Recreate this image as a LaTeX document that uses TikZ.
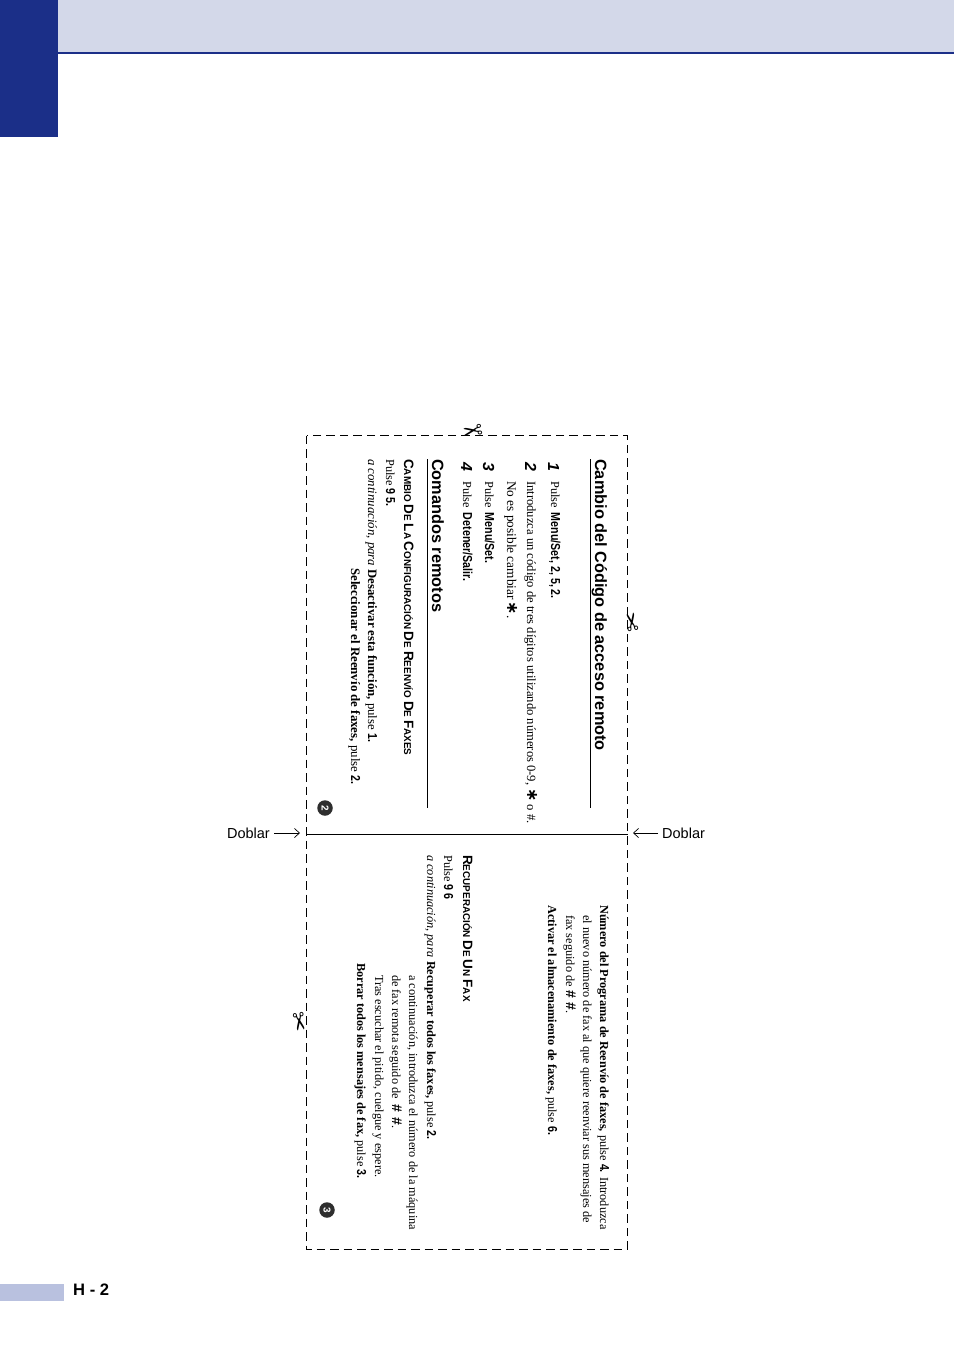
\documentclass[tikz,border=0pt]{standalone}
\usepackage{fontspec}
\usetikzlibrary{arrows.meta}
\setmainfont{Liberation Serif}
\setsansfont{Liberation Sans}
\newfontfamily\keyfont[FakeStretch=0.82]{Liberation Sans Bold}
\newfontfamily\symfont{DejaVu Sans}
\newcommand{\keyname}[1]{{\keyfont\fontsize{13}{13}\selectfont #1}}
\newcommand{\capletter}[1]{{\fontsize{13.5}{13.5}\selectfont #1}}
\newcommand{\starkey}{{\symfont\bfseries\fontsize{16}{16}\selectfont ∗}}
\newcommand{\hashpair}{{\sffamily\bfseries\fontsize{14}{14}\selectfont \#\hspace{5pt}\#}}
\definecolor{pageblue}{HTML}{1B2F88}
\definecolor{bandblue}{HTML}{D3D8E9}
\definecolor{tabblue}{HTML}{B9C1DF}
\definecolor{discgrey}{HTML}{2E2E2E}
\tikzset{
	textline/.style={rotate=-90, anchor=base west, inner sep=0pt, font=\fontsize{12.3}{12.3}\selectfont},
	headline/.style={textline, font=\fontsize{16.3}{16.3}\selectfont\sffamily\bfseries},
	capsline/.style={textline, font=\fontsize{9.9}{9.9}\selectfont\sffamily\bfseries},
	stepnum/.style={textline, font=\fontsize{16}{16}\selectfont\sffamily\bfseries\itshape},
	disc/.style={draw=none, fill=discgrey, circle, minimum size=15.5pt, inner sep=0pt, rotate=-90, text=white, font=\fontsize{10}{10}\selectfont\sffamily\bfseries},
	scissor/.style={inner sep=0pt, font=\symfont\fontsize{24}{24}\selectfont},
	foldtext/.style={inner sep=0pt, font=\fontsize{14.5}{14.5}\selectfont\sffamily},
}
\begin{document}
\begin{tikzpicture}[x=1pt, y=-1pt, >={Straight Barb[length=5pt,width=9pt]}]
		\useasboundingbox (0,0) rectangle (954,1348);
		% Page furniture
		\fill[bandblue] (58,0) rectangle (954,52);
		\fill[pageblue] (58,52) rectangle (954,54);
		\fill[pageblue] (0,0) rectangle (58,137);
		\fill[tabblue] (0,1284) rectangle (64,1301);
		\node[inner sep=0pt, anchor=base west, font=\fontsize{16.6}{16.6}\selectfont\sffamily\bfseries] (PageNumber) at (73,1295) {H - 2};
		
		% Card outline and fold
		\draw[dash pattern=on 8.5pt off 5pt, line width=0.8pt] (306.5,435.5) rectangle (627.5,1249);
		\coordinate (FoldTop) at (306.5,834);
		\coordinate (FoldBottom) at (627.5,834);
		\draw[line width=0.8pt] (FoldTop) -- (FoldBottom);
		
		\node[foldtext, anchor=east] (DoblarLeft) at (270,833) {Doblar};
		\node[foldtext, anchor=west] (DoblarRight) at (662,833) {Doblar};
		\coordinate (ArrowLeft) at (300,833);
		\coordinate (ArrowRight) at (633,833);
		\draw[->, line width=0.7pt] ([xshift=4pt]DoblarLeft.east) -- (ArrowLeft);
		\draw[->, line width=0.7pt] ([xshift=-4pt]DoblarRight.west) -- (ArrowRight);
		
		\node[scissor, rotate=190] (CutTop) at (473,429) {✂};
		\node[scissor, rotate=100] (CutRight) at (634,622) {✂};
		\node[scissor, rotate=-80] (CutLeft) at (298,1022) {✂};
		
		% Left half, access code
		\node[headline] (CodeTitle) at (595,459) {Cambio del Código de acceso remoto};
		\coordinate (CodeRuleA) at (590,459);
		\coordinate (CodeRuleB) at (590,808);
		\draw[line width=0.8pt] (CodeRuleA) -- (CodeRuleB);
		
		\node[stepnum] (Num1) at (548,462) {1};
		\node[textline] (Step1) at (551,481) {Pulse\, \keyname{Menu/Set, 2, 5, 2.}};
		\node[stepnum] (Num2) at (525,462) {2};
		\node[textline, font=\fontsize{12.6}{12.6}\selectfont] (Step2a) at (527,481) {Introduzca un código de tres dígitos utilizando números 0-9, \starkey\ o \#.};
		\node[textline, font=\fontsize{13.3}{13.3}\selectfont] (Step2b) at (507,481) {No es posible cambiar\,\starkey.};
		\node[stepnum] (Num3) at (483,462) {3};
		\node[textline] (Step3) at (485,481) {Pulse\, \keyname{Menu/Set.}};
		\node[stepnum] (Num4) at (461,462) {4};
		\node[textline] (Step4) at (463,481) {Pulse\, \keyname{Detener/Salir.}};
		
		% Left half, remote commands
		\node[headline] (RemoteTitle) at (432,459) {Comandos remotos};
		\coordinate (RemoteRuleA) at (427,459);
		\coordinate (RemoteRuleB) at (427,808);
		\draw[line width=0.8pt] (RemoteRuleA) -- (RemoteRuleB);
		
		\node[capsline] (ForwardTitle) at (404,459) {\capletter{C}AMBIO \capletter{D}E \capletter{L}A \capletter{C}ONFIGURACIÓN \capletter{D}E \capletter{R}EENVÍO \capletter{D}E \capletter{F}AXES};
		\node[textline] (ForwardKey) at (386,459) {Pulse \keyname{9 5.}};
		\node[textline, font=\fontsize{12.8}{12.8}\selectfont] (ForwardA) at (368,459) {\textit{a continuación, para} \textbf{Desactivar esta función,} pulse \keyname{1.}};
		\node[textline, font=\fontsize{12.9}{12.9}\selectfont] (ForwardB) at (351,568) {\textbf{Seleccionar el Reenvío de faxes,} pulse \keyname{2.}};
		\node[disc] (DiscTwo) at (325,808) {2};
		
		% Right half, continued options
		\node[textline] (ProgramA) at (600,905) {\textbf{Número del Programa de Reenvío de faxes,} pulse \keyname{4.} Introduzca};
		\node[textline] (ProgramB) at (583,915) {el nuevo número de fax al que quiere reenviar sus mensajes de};
		\node[textline] (ProgramC) at (566,915) {fax seguido de \hashpair.};
		\node[textline] (StoreLine) at (548,905) {\textbf{Activar el almacenamiento de faxes,} pulse \keyname{6.}};
		
		% Right half, retrieval
		\node[capsline] (FetchTitle) at (463,855) {\capletter{R}ECUPERACIÓN \capletter{D}E \capletter{U}N \capletter{F}AX};
		\node[textline] (FetchKey) at (444,855) {Pulse \keyname{9 6}};
		\node[textline] (FetchA) at (427,855) {\textit{a continuación, para} \textbf{Recuperar todos los faxes,} pulse \keyname{2.}};
		\node[textline] (FetchB) at (409,975) {a continuación, introduzca el número de la máquina};
		\node[textline] (FetchC) at (392,975) {de fax remota seguido de\hspace{6pt}\hashpair.};
		\node[textline] (FetchD) at (375,975) {Tras escuchar el pitido, cuelgue y espere.};
		\node[textline] (FetchE) at (357,963) {\textbf{Borrar todos los mensajes de fax,} pulse \keyname{3.}};
		\node[disc] (DiscThree) at (327,1210) {3};
		
	\end{tikzpicture}
\end{document}
